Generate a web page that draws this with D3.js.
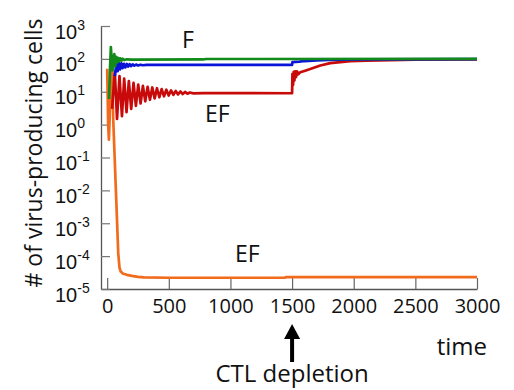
<!DOCTYPE html>
<html>
<head>
<meta charset="utf-8">
<script src="https://cdn.jsdelivr.net/npm/d3@7"></script>
<style>
  html, body { margin: 0; padding: 0; background: #ffffff; }
  svg { display: block; font-family: 'Open Sans', 'Liberation Sans', sans-serif; }
</style>
</head>
<body>
<div id="chart"></div>
<script>
// x tick labels (time) and y decades
const timeTicks = [0, 500, 1000, 1500, 2000, 2500, 3000];
const decadeExponents = [-5, -4, -3, -2, -1, 0, 1, 2, 3];

// series: [time, # of virus-producing cells]
const greenSeries = [
  [15, 6], [22, 40], [30, 230], [37, 90], [44, 45], [52, 110], [58, 140], [65, 60],
  [73, 115], [80, 78], [88, 108], [96, 84], [105, 104], [115, 88], [125, 101], [140, 92],
  [160, 97], [200, 95], [780, 96], [800, 99], [3000, 100]
];
const blueSeries = [
  [62, 30], [70, 50], [77, 78], [85, 42], [95, 74], [104, 48], [115, 73], [125, 52],
  [136, 71], [147, 55], [159, 70], [170, 58], [182, 69], [194, 60], [207, 68], [220, 62],
  [235, 67], [250, 63], [270, 66.5], [290, 64], [320, 66], [400, 66], [1500, 66],
  [1503, 80], [1560, 82], [1600, 86], [1700, 90], [1800, 93], [1900, 95], [2100, 97], [3000, 98]
];
const redSeries = [
  [40, 3], [62, 40], [80, 1.5], [100, 30], [120, 1.8], [138, 25], [157, 2.4], [176, 21],
  [195, 3.0], [214, 18.5], [233, 3.7], [252, 16.5], [271, 4.4], [290, 15], [309, 5.1],
  [328, 14.2], [347, 5.7], [366, 13.5], [385, 6.3], [404, 12.8], [423, 6.8], [442, 12],
  [461, 7.3], [480, 11.5], [499, 7.7], [518, 11], [537, 8.0], [556, 10.6], [575, 8.3],
  [594, 10.2], [613, 8.5], [632, 9.9], [651, 8.7], [670, 9.5], [700, 8.9], [780, 9.1],
  [1500, 9], [1503, 35], [1508, 16], [1513, 40], [1519, 22], [1525, 42], [1532, 28],
  [1540, 42], [1550, 34], [1566, 39], [1600, 43], [1647, 49], [1729, 63], [1810, 74],
  [1891, 80], [1972, 85], [2100, 89], [2300, 92], [2500, 94], [3000, 96]
];
const orangeSeries = [
  [0, 50], [4, 8], [8, 1], [14, 0.35], [20, 1.5], [27, 20], [33, 75], [38, 40], [44, 8],
  [50, 1.2], [60, 0.12], [70, 0.012], [80, 1.2e-3], [90, 1.2e-4], [100, 4.5e-5],
  [110, 3.4e-5], [130, 2.9e-5], [160, 2.7e-5], [200, 2.5e-5], [250, 2.35e-5],
  [300, 2.25e-5], [500, 2.2e-5], [1440, 2.2e-5], [1450, 2.3e-5], [3000, 2.3e-5]
];

// drawn in this order, green ends up on top
const seriesList = [
  { values: orangeSeries, color: '#f26b1d' },
  { values: redSeries, color: '#c80a0a' },
  { values: blueSeries, color: '#0a14d6' },
  { values: greenSeries, color: '#138a1c' }
];

const width = 514;
const height = 390;
const depletionTime = 1500;

const svg = d3.select('#chart').append('svg')
  .attr('width', width)
  .attr('height', height);

const x = d3.scaleLinear().domain([-50, 3000]).range([101, 477]);
const y = d3.scaleLog().domain([1e-5, 1e3]).range([289, 26]);

// axes
const xAxis = svg.append('g')
  .attr('transform', `translate(0, ${y(1e-5)})`)
  .call(d3.axisBottom(x).tickValues(timeTicks).tickSizeInner(-11).tickSizeOuter(0).tickFormat(d3.format('d')));
xAxis.select('.domain').attr('stroke', '#555').attr('stroke-width', 1.3);
xAxis.selectAll('.tick line').attr('stroke', '#666').attr('stroke-width', 1.2);
xAxis.selectAll('.tick text')
  .attr('y', 24).attr('dy', 0)
  .attr('fill', '#111')
  .attr('font-size', 20)
  .attr('font-family', "'Open Sans', sans-serif");

const yAxis = svg.append('g')
  .attr('transform', `translate(${x(-50)}, 0)`)
  .call(d3.axisLeft(y).tickValues(decadeExponents.map((e) => Math.pow(10, e))).tickSizeInner(-9).tickSizeOuter(0).tickFormat(''));
yAxis.select('.domain').attr('stroke', '#555').attr('stroke-width', 1.3);
yAxis.selectAll('.tick line').attr('stroke', '#777').attr('stroke-width', 1.2);

// 10^n labels, left aligned
const yLabels = yAxis.selectAll('.tick').append('text')
  .attr('x', 55 - x(-50))
  .attr('y', 12)
  .attr('text-anchor', 'start')
  .attr('fill', '#111')
  .attr('font-size', 20);
yLabels.append('tspan').text('10');
yLabels.append('tspan')
  .attr('font-size', 14)
  .attr('dy', -9)
  .text((d) => String(Math.round(Math.log10(d))));

// lines
const line = d3.line()
  .x((d) => x(d[0]))
  .y((d) => y(d[1]));

svg.append('g').selectAll('path')
  .data(seriesList)
  .enter().append('path')
  .attr('d', (s) => line(s.values))
  .attr('fill', 'none')
  .attr('stroke', (s) => s.color)
  .attr('stroke-width', 2.7)
  .attr('stroke-linejoin', 'round');

// labels
svg.append('text')
  .attr('transform', 'translate(42, 153) rotate(-90)')
  .attr('text-anchor', 'middle')
  .attr('font-size', 23)
  .attr('fill', '#111')
  .text('# of virus-producing cells');

svg.append('text').attr('x', 182).attr('y', 48).attr('font-size', 23).attr('fill', '#111').text('F');
svg.append('text').attr('x', 205).attr('y', 122).attr('font-size', 23).attr('fill', '#111').text('EF');
svg.append('text').attr('x', 235).attr('y', 262).attr('font-size', 23).attr('fill', '#111').text('EF');

svg.append('text')
  .attr('x', 487).attr('y', 355)
  .attr('text-anchor', 'end')
  .attr('font-size', 24)
  .attr('fill', '#111')
  .text('time');

// CTL depletion arrow
const ax = x(depletionTime);
svg.append('line')
  .attr('x1', ax).attr('x2', ax)
  .attr('y1', 334).attr('y2', 362)
  .attr('stroke', '#000')
  .attr('stroke-width', 4);
svg.append('path')
  .attr('d', `M${ax},324 L${ax - 8},339 L${ax + 8},339 Z`)
  .attr('fill', '#000');

svg.append('text')
  .attr('x', ax).attr('y', 382)
  .attr('text-anchor', 'middle')
  .attr('font-size', 24)
  .attr('fill', '#111')
  .text('CTL depletion');
</script>
</body>
</html>
